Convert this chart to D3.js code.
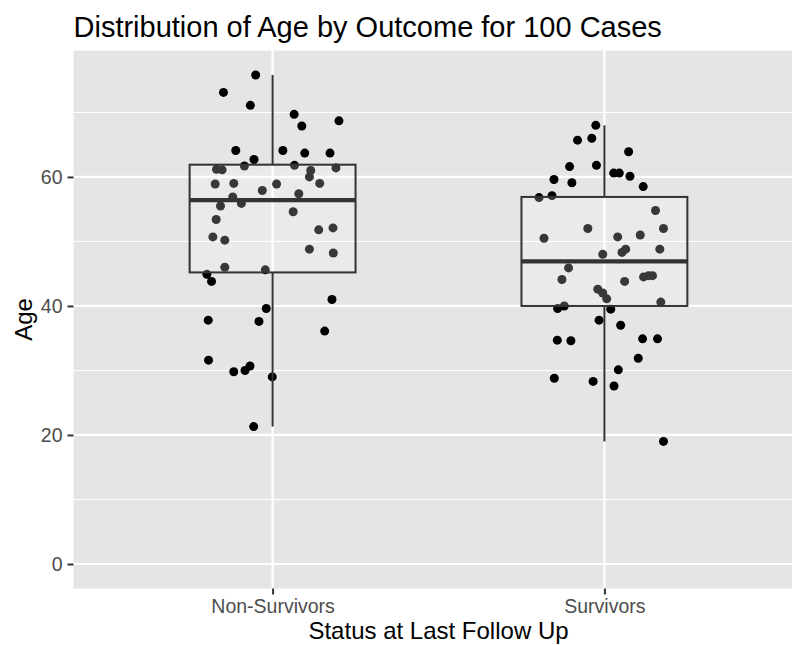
<!DOCTYPE html>
<html>
<head>
<meta charset="utf-8">
<script src="https://cdn.jsdelivr.net/npm/d3@7"></script>
<style>
  html, body { margin: 0; padding: 0; background: #fff; }
  svg { display: block; font-family: "Liberation Sans", Arial, sans-serif; }
</style>
</head>
<body>
<svg id="chart" width="792" height="645"></svg>
<script>
// ---- data ----
const categories = ["Non-Survivors", "Survivors"];
const yTicks = [0, 20, 40, 60];

// Non-Survivors: ages and horizontal jitter (category units)
const nonSurvivorAges = [75.8, 73.1, 71.1, 69.7, 68.7, 67.9, 64.1, 64.1, 63.7, 63.7,
  62.7, 61.7, 61.8, 61.0, 61.4, 61.2, 61.1, 60.0, 58.9, 59.0,
  58.9, 59.0, 57.9, 57.4, 56.9, 55.5, 55.9, 54.6, 53.4, 51.8,
  52.1, 50.7, 50.2, 48.8, 48.2, 46.0, 45.6, 44.9, 43.8, 41.0,
  39.6, 37.8, 37.6, 36.1, 31.6, 29.8, 30.0, 30.7, 29.0, 21.3];
const nonSurvivorJitter = [-0.051, -0.148, -0.067, 0.065, 0.200, 0.088, -0.111, 0.031, 0.097, 0.173,
  -0.056, -0.085, 0.066, 0.115, 0.191, -0.169, -0.152, 0.111, -0.173, -0.117,
  0.012, 0.142, -0.031, 0.079, -0.120, -0.157, -0.094, 0.062, -0.170, 0.139,
  0.182, -0.180, -0.144, 0.111, 0.183, -0.144, -0.022, -0.198, -0.184, 0.179,
  -0.019, -0.194, -0.041, 0.157, -0.193, -0.117, -0.083, -0.068, -0.001, -0.057];

// Survivors: ages and horizontal jitter (category units)
const survivorAges = [68.0, 65.7, 66.0, 63.9, 61.6, 61.8, 60.6, 60.6, 60.1, 59.6,
  59.1, 58.5, 56.8, 57.1, 54.8, 52.0, 52.0, 50.5, 50.7, 51.0,
  48.8, 48.3, 48.8, 48.0, 45.9, 44.1, 43.8, 44.5, 44.7, 44.7,
  42.6, 42.0, 41.1, 40.6, 39.6, 40.0, 39.5, 37.8, 37.0, 34.7,
  34.6, 34.9, 34.9, 31.9, 30.1, 28.8, 28.3, 27.6, 19.0];
const survivorJitter = [-0.026, -0.081, -0.038, 0.073, -0.105, -0.024, 0.028, 0.045, 0.077, -0.152,
  -0.098, 0.117, -0.197, -0.158, 0.154, -0.050, 0.178, -0.182, 0.040, 0.108,
  0.064, 0.053, 0.167, -0.005, -0.108, -0.128, 0.061, 0.118, 0.133, 0.145,
  -0.020, -0.005, 0.007, 0.170, -0.141, -0.121, 0.019, -0.016, 0.049, -0.142,
  -0.101, 0.115, 0.160, 0.102, 0.042, -0.151, -0.034, 0.029, 0.178];

// Box statistics
const boxLow    = [21.3, 19.0];
const boxQ1     = [45.2, 40.0];
const boxMedian = [56.4, 46.9];
const boxQ3     = [61.9, 56.9];
const boxHigh   = [75.8, 68.0];

// ---- layout ----
const svg = d3.select("#chart");
const panel = { left: 73.5, right: 803.5, top: 50.5, bottom: 588.5 };

const x = d3.scaleLinear().domain([0.4, 2.6]).range([panel.left, panel.right]);
const y = d3.scaleLinear().domain([-3.8, 79.6]).range([panel.bottom, panel.top]);

// panel background
svg.append("rect")
  .attr("x", panel.left).attr("y", panel.top)
  .attr("width", panel.right - panel.left).attr("height", panel.bottom - panel.top)
  .attr("fill", "#E5E5E5");

const g = svg.append("g");

// minor grid
const minorY = [10, 30, 50, 70];
g.selectAll("line.minor").data(minorY).join("line")
  .attr("x1", panel.left).attr("x2", panel.right)
  .attr("y1", d => y(d)).attr("y2", d => y(d))
  .attr("stroke", "#fff").attr("stroke-width", 1.1);

// major grid
g.selectAll("line.majorY").data(yTicks).join("line")
  .attr("x1", panel.left).attr("x2", panel.right)
  .attr("y1", d => y(d)).attr("y2", d => y(d))
  .attr("stroke", "#fff").attr("stroke-width", 2.2);
g.selectAll("line.majorX").data([1, 2]).join("line")
  .attr("x1", d => x(d)).attr("x2", d => x(d))
  .attr("y1", panel.top).attr("y2", panel.bottom)
  .attr("stroke", "#fff").attr("stroke-width", 2.2);

// points
const pts = [];
nonSurvivorAges.forEach((a, i) => pts.push({ c: 1, j: nonSurvivorJitter[i], v: a }));
survivorAges.forEach((a, i) => pts.push({ c: 2, j: survivorJitter[i], v: a }));
g.selectAll("circle.pt").data(pts).join("circle")
  .attr("cx", d => x(d.c + d.j)).attr("cy", d => y(d.v))
  .attr("r", 4.5).attr("fill", "#000");

// boxes
const boxes = categories.map((c, i) => ({ c: i + 1, lo: boxLow[i], q1: boxQ1[i], med: boxMedian[i], q3: boxQ3[i], hi: boxHigh[i] }));
const halfW = 0.25;
const bg = g.selectAll("g.box").data(boxes).join("g");
bg.append("line")
  .attr("x1", d => x(d.c)).attr("x2", d => x(d.c))
  .attr("y1", d => y(d.hi)).attr("y2", d => y(d.q3))
  .attr("stroke", "#333").attr("stroke-width", 2);
bg.append("line")
  .attr("x1", d => x(d.c)).attr("x2", d => x(d.c))
  .attr("y1", d => y(d.q1)).attr("y2", d => y(d.lo))
  .attr("stroke", "#333").attr("stroke-width", 2);
bg.append("rect")
  .attr("x", d => x(d.c - halfW)).attr("width", d => x(d.c + halfW) - x(d.c - halfW))
  .attr("y", d => y(d.q3)).attr("height", d => y(d.q1) - y(d.q3))
  .attr("fill", "#fff").attr("fill-opacity", 0.22)
  .attr("stroke", "#333").attr("stroke-width", 2);
bg.append("line")
  .attr("x1", d => x(d.c - halfW)).attr("x2", d => x(d.c + halfW))
  .attr("y1", d => y(d.med)).attr("y2", d => y(d.med))
  .attr("stroke", "#333").attr("stroke-width", 4.2);

// axes
const yAxis = svg.append("g")
  .attr("transform", `translate(${panel.left},0)`)
  .call(d3.axisLeft(y).tickValues(yTicks).tickSize(6).tickPadding(5));
const xAxis = svg.append("g")
  .attr("transform", `translate(0,${panel.bottom})`)
  .call(d3.axisBottom(x).tickValues([1, 2]).tickFormat(d => categories[d - 1]).tickSize(6).tickPadding(5));
[yAxis, xAxis].forEach(ax => {
  ax.select(".domain").remove();
  ax.selectAll(".tick line").attr("stroke", "#333").attr("stroke-width", 2);
  ax.selectAll(".tick text").attr("fill", "#4D4D4D")
    .style("font-size", "19.5px").style("font-family", "'Liberation Sans', Arial, sans-serif");
});

// titles
svg.append("text")
  .attr("x", panel.left).attr("y", 37)
  .attr("fill", "#000").style("font-size", "29px")
  .text("Distribution of Age by Outcome for 100 Cases");

svg.append("text")
  .attr("x", (panel.left + panel.right) / 2).attr("y", 639)
  .attr("text-anchor", "middle").attr("fill", "#000").style("font-size", "24px")
  .text("Status at Last Follow Up");

svg.append("text")
  .attr("transform", `translate(32,${(panel.top + panel.bottom) / 2}) rotate(-90)`)
  .attr("text-anchor", "middle").attr("fill", "#000").style("font-size", "24px")
  .text("Age");
</script>
</body>
</html>
